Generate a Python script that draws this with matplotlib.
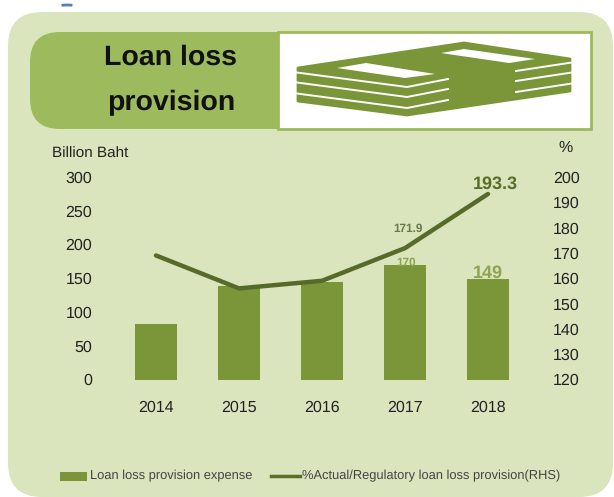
import matplotlib
matplotlib.use('Agg')
import matplotlib.pyplot as plt
from matplotlib.patches import FancyBboxPatch, Polygon, Rectangle, Arc

years = ['2014', '2015', '2016', '2017', '2018']
expense = [82, 139, 145, 170, 149]
ratio = [169, 156, 159, 171.9, 193.3]
left_ticks = [0, 50, 100, 150, 200, 250, 300]
right_ticks = [120, 130, 140, 150, 160, 170, 180, 190, 200]

W, H = 614, 497
plt.rcParams['font.family'] = ['Liberation Sans', 'DejaVu Sans']
plt.rcParams['text.hinting'] = 'no_hinting'

fig = plt.figure(figsize=(W / 100, H / 100), dpi=100, facecolor='white')

# background layer in pixel coordinates
bg = fig.add_axes([0, 0, 1, 1])
bg.set_xlim(0, W)
bg.set_ylim(H, 0)
bg.axis('off')
bg.add_patch(Arc((67, 17), 50, 24, theta1=245, theta2=295, color='#5a7db8', lw=2))
bg.add_patch(FancyBboxPatch((8, 12), 605, 485, boxstyle='round,pad=0,rounding_size=34', fc='#dae4bd', ec='none'))
bg.add_patch(FancyBboxPatch((30, 32), 300, 97, boxstyle='round,pad=0,rounding_size=30', fc='#9dbb5c', ec='none'))
bg.add_patch(Rectangle((278, 32), 313, 97, fc='white', ec='#9dbb5c', lw=2))
bg.text(171, 57, 'Loan loss', fontsize=20.5, fontweight='bold', ha='center', va='center', color='#111111')
bg.text(171, 103, 'provision', fontsize=20.5, fontweight='bold', ha='center', va='center', color='#111111')

# stack of banknotes icon
money = '#7a9638'
bg.add_patch(Polygon([(298, 68), (464, 43), (570, 59), (570, 91), (407, 115), (298, 101)], fc=money, ec=money, lw=2, joinstyle='round'))
for dy in [0, 10, 21]:
    bg.plot([293, 407, 448], [72 + dy, 87 + dy, 79 + dy], color='white', lw=1.4)
    bg.plot([516, 575], [71 + dy, 62 + dy], color='white', lw=1.4)
bg.add_patch(Polygon([(337, 68), (366, 63), (435, 74), (405, 78)], fc='white', ec='none'))
bg.add_patch(Polygon([(441, 53), (464, 49), (535, 59), (509, 63)], fc='white', ec='none'))

bg.text(90, 154, 'Billion Baht', fontsize=11, ha='center', va='center', color='#222222')
bg.text(566, 148, '%', fontsize=11.5, ha='center', va='center', color='#222222')

# chart axes, x positions matched to the year labels
ax = fig.add_axes([114.5 / W, 1 - 379.5 / H, 415 / W, 202.5 / H])
ax.patch.set_alpha(0)
ax.bar(range(5), expense, width=0.51, color='#7b9639')
ax.set_xlim(-0.5, 4.5)
ax.set_ylim(0, 300)
ax.set_yticks(left_ticks)
ax.set_xticks(range(5))
ax.set_xticklabels(years)
ax.tick_params(length=0, labelsize=11.5, labelcolor='#222222')
ax.tick_params(axis='x', pad=15)
ax.tick_params(axis='y', pad=16)
for s in ax.spines.values():
    s.set_visible(False)

ax2 = ax.twinx()
ax2.patch.set_alpha(0)
ax2.plot(range(5), ratio, color='#566b2a', lw=3.2, solid_capstyle='round')
ax2.set_ylim(120, 200)
ax2.set_yticks(right_ticks)
ax2.tick_params(length=0, labelsize=11.5, labelcolor='#222222', pad=17)
for s in ax2.spines.values():
    s.set_visible(False)

ax2.annotate('171.9', (3, ratio[3]), xytext=(2, 13.7), textcoords='offset points', ha='center', va='center', fontsize=8.5, fontweight='bold', color='#667a48')
ax2.annotate('193.3', (4, ratio[4]), xytext=(5.4, 7.2), textcoords='offset points', ha='center', va='center', fontsize=13, fontweight='bold', color='#586f2a')
ax.annotate('170', (3, expense[3]), xytext=(0.7, 1.5), textcoords='offset points', ha='center', va='center', fontsize=8.5, fontweight='bold', color='#8da54e')
ax.annotate('149', (4, expense[4]), xytext=(0, 4), textcoords='offset points', ha='center', va='center', fontsize=13, fontweight='bold', color='#8da54e')

# legend drawn by hand so it sits where the original has it
bg.add_patch(Rectangle((59.5, 472), 27.5, 9, fc='#7b9639', ec='none'))
bg.text(90, 476, 'Loan loss provision expense', fontsize=9.3, va='center', color='#444444')
bg.plot([271, 300], [476, 476], color='#586f2a', lw=2.5)
bg.text(302, 476, '%Actual/Regulatory loan loss provision(RHS)', fontsize=9.3, va='center', color='#444444')

fig.savefig('out.png', dpi=100)
